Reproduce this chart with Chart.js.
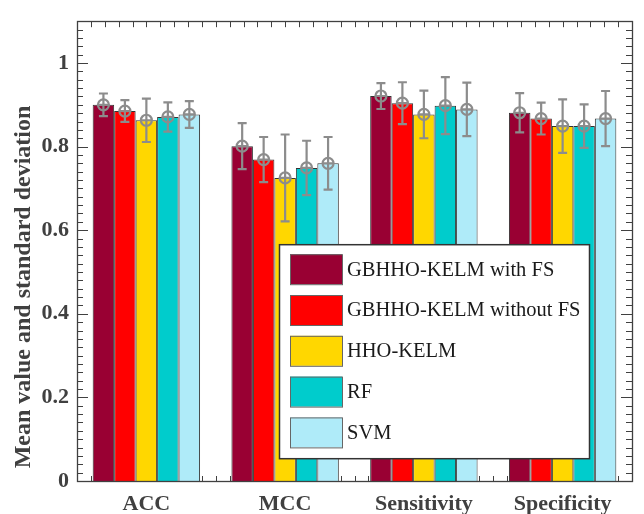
<!DOCTYPE html>
<html>
<head>
<meta charset="utf-8">
<script src="https://cdn.jsdelivr.net/npm/chart.js@4"></script>
<style>
    html, body { margin: 0; padding: 0; background: #fff; }
</style>
</head>
<body>
<canvas id="chart" width="644" height="514"></canvas>
<script>
const categories = ['ACC', 'MCC', 'Sensitivity', 'Specificity'];
const seriesNames = ['GBHHO-KELM with FS', 'GBHHO-KELM without FS', 'HHO-KELM', 'RF', 'SVM'];

const withFsMean = [0.900, 0.801, 0.921, 0.881];
const withFsSd = [0.027, 0.055, 0.031, 0.047];
const withoutFsMean = [0.885, 0.769, 0.904, 0.867];
const withoutFsSd = [0.026, 0.054, 0.050, 0.038];
const hhoMean = [0.863, 0.725, 0.877, 0.849];
const hhoSd = [0.052, 0.104, 0.057, 0.064];
const rfMean = [0.871, 0.749, 0.898, 0.849];
const rfSd = [0.035, 0.065, 0.068, 0.052];
const svmMean = [0.877, 0.760, 0.889, 0.867];
const svmSd = [0.032, 0.063, 0.064, 0.066];

const yTicks = [0, 0.2, 0.4, 0.6, 0.8, 1];
const yTitle = 'Mean value and standard deviation';

const FONT = "'Liberation Serif', 'Times New Roman', serif";
const AXIS = '#404040';
const colors = ['#990033', '#ff0000', '#ffd700', '#00cccc', '#afebf9'];

const means = [withFsMean, withoutFsMean, hhoMean, rfMean, svmMean];
const sds = [withFsSd, withoutFsSd, hhoSd, rfSd, svmSd];

// ticks pointing inwards on all four sides, plus the box
const frame = {
    id: 'frame',
    beforeDatasetsDraw(chart) {
        const { ctx, chartArea: a, scales: { y } } = chart;
        ctx.save();
        ctx.strokeStyle = AXIS;
        ctx.lineWidth = 1;
        ctx.beginPath();
        for (let k = 0; k <= 55; k++) {
            const py = Math.round(y.getPixelForValue(k * 0.02)) + 0.5;
            const len = k % 10 === 0 ? 11 : 6;
            ctx.moveTo(a.left, py); ctx.lineTo(a.left + len, py);
            ctx.moveTo(a.right, py); ctx.lineTo(a.right - len, py);
        }
        const n = categories.length * 10;
        const step = (a.right - a.left) / n;
        for (let k = 1; k < n; k++) {
            const px = Math.round(a.left + k * step) + 0.5;
            ctx.moveTo(px, a.bottom); ctx.lineTo(px, a.bottom - 5);
            ctx.moveTo(px, a.top); ctx.lineTo(px, a.top + 6);
        }
        ctx.stroke();
        ctx.restore();
    },
    afterDatasetsDraw(chart) {
        const { ctx, chartArea: a } = chart;
        ctx.save();
        ctx.strokeStyle = AXIS;
        ctx.lineWidth = 1.3;
        ctx.strokeRect(Math.round(a.left) + 0.5, Math.round(a.top) + 0.5,
            Math.round(a.right - a.left), Math.round(a.bottom - a.top));
        ctx.restore();
    }
};

// mean marker with standard deviation whiskers
const errorBars = {
    id: 'errorBars',
    afterDatasetsDraw(chart) {
        const { ctx, scales: { y } } = chart;
        ctx.save();
        ctx.strokeStyle = '#8c8c8c';
        ctx.lineWidth = 2.2;
        chart.data.datasets.forEach((ds, i) => {
            const meta = chart.getDatasetMeta(i);
            meta.data.forEach((bar, j) => {
                const m = ds.data[j];
                const sd = ds.sd[j];
                const x = bar.x;
                const yc = y.getPixelForValue(m);
                const yt = y.getPixelForValue(m + sd);
                const yb = y.getPixelForValue(m - sd);
                const r = 5.5, cap = 4.5;
                ctx.beginPath();
                ctx.moveTo(x, yt); ctx.lineTo(x, yb);
                ctx.moveTo(x - cap, yt); ctx.lineTo(x + cap, yt);
                ctx.moveTo(x - cap, yb); ctx.lineTo(x + cap, yb);
                ctx.moveTo(x - r, yc); ctx.lineTo(x + r, yc);
                ctx.stroke();
                ctx.beginPath();
                ctx.arc(x, yc, r, 0, Math.PI * 2);
                ctx.stroke();
            });
        });
        ctx.restore();
    }
};

// legend box inside the plot, lower right
const boxLegend = {
    id: 'boxLegend',
    afterDraw(chart) {
        const { ctx, chartArea: a } = chart;
        const left = a.left + 202, top = a.top + 223;
        const w = 310, h = 214;
        ctx.save();
        ctx.fillStyle = '#fff';
        ctx.fillRect(left, top, w, h);
        ctx.strokeStyle = '#333';
        ctx.lineWidth = 1.5;
        ctx.strokeRect(left + 0.5, top + 0.5, w, h);
        ctx.font = '20.5px ' + FONT;
        ctx.textBaseline = 'middle';
        chart.data.datasets.forEach((ds, i) => {
            const ry = top + 10 + i * 40.8;
            ctx.fillStyle = ds.backgroundColor;
            ctx.fillRect(left + 11, ry, 52, 30);
            ctx.strokeStyle = '#666';
            ctx.lineWidth = 1;
            ctx.strokeRect(left + 11.5, ry + 0.5, 52, 30);
            ctx.fillStyle = '#1a1a1a';
            ctx.fillText(ds.label, left + 68, ry + 16);
        });
        ctx.restore();
    }
};

const yTitlePlugin = {
    id: 'yTitlePlugin',
    afterDraw(chart) {
        const { ctx } = chart;
        ctx.save();
        ctx.translate(24, 287);
        ctx.rotate(-Math.PI / 2);
        ctx.font = 'bold 24px ' + FONT;
        ctx.fillStyle = AXIS;
        ctx.textAlign = 'center';
        ctx.textBaseline = 'middle';
        ctx.fillText(yTitle, 0, 0);
        ctx.restore();
    }
};

const ctx = document.getElementById('chart').getContext('2d');

new Chart(ctx, {
    type: 'bar',
    data: {
        labels: categories,
        datasets: seriesNames.map((name, i) => ({
            label: name,
            data: means[i],
            sd: sds[i],
            backgroundColor: colors[i],
            borderColor: '#333',
            borderWidth: 1,
            barPercentage: 1,
            categoryPercentage: 0.774
        }))
    },
    options: {
        responsive: false,
        animation: false,
        devicePixelRatio: 1,
        layout: { padding: { top: 10, right: 12, left: 0, bottom: 0 } },
        plugins: {
            legend: { display: false },
            tooltip: { enabled: false }
        },
        scales: {
            x: {
                grid: { display: false, drawTicks: false },
                border: { display: false },
                ticks: {
                    color: AXIS,
                    padding: 10,
                    font: { family: FONT, size: 22, weight: 'bold' }
                },
                afterFit(s) { s.height = 33; }
            },
            y: {
                min: 0,
                max: 1.1,
                grid: { display: false, drawTicks: false },
                border: { display: false },
                ticks: {
                    color: AXIS,
                    padding: 8,
                    font: { family: FONT, size: 22, weight: 'bold' },
                    callback: v => String(v)
                },
                afterBuildTicks(s) { s.ticks = yTicks.map(v => ({ value: v })); },
                afterFit(s) { s.width = 77; }
            }
        }
    },
    plugins: [frame, errorBars, boxLegend, yTitlePlugin]
});
</script>
</body>
</html>
